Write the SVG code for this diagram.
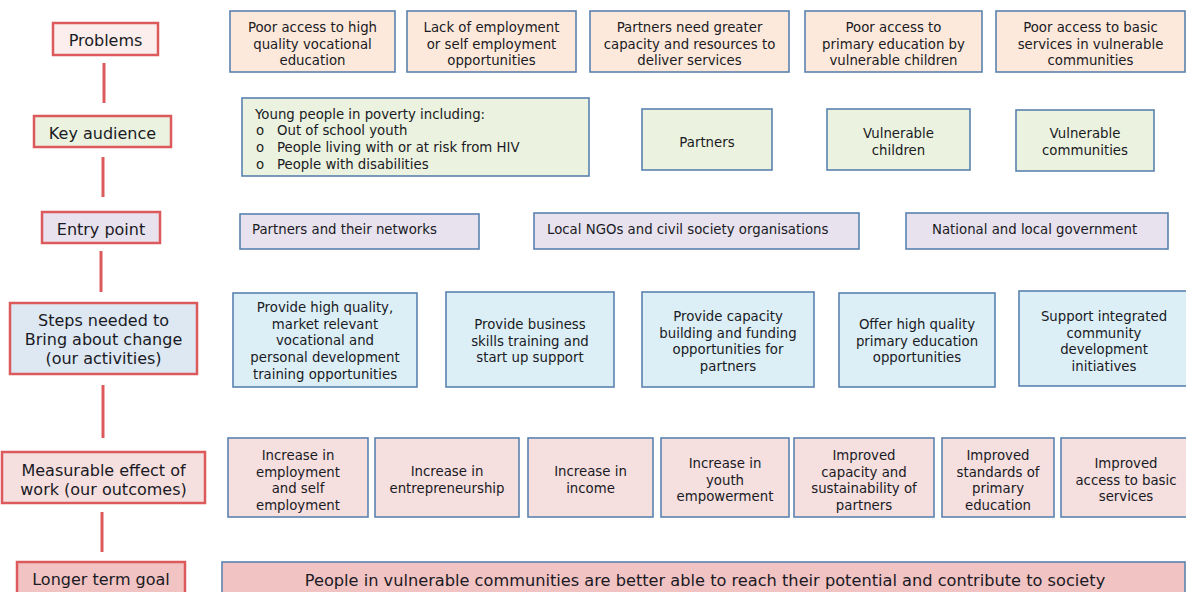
<svg xmlns="http://www.w3.org/2000/svg" width="1186" height="592" viewBox="0 0 1186 592">
  <style>
    text { font-family: "DejaVu Sans", "Liberation Sans", sans-serif; fill: #1a1a24; }
    .lbl rect { stroke: #dc5a5c; stroke-width: 2.5; }
    .lbl text { font-size: 16px; text-anchor: middle; }
    .box rect { stroke: #5a82b0; stroke-width: 1.6; }
    .box text { font-size: 13.3px; text-anchor: middle; }
    .prob rect { fill: #fde9db; }
    .aud rect { fill: #ebf2df; }
    .ent rect { fill: #e7e2ee; }
    .step rect { fill: #dceff6; }
    .out rect { fill: #f5dfdf; }
    .goal rect { fill: #f2c3c3; }
    .goal text { font-size: 16.2px; }
    .left text { text-anchor: start; }
    #connectors line { stroke: #dc5a5c; stroke-width: 3; }
  </style>
  <rect width="1186" height="592" fill="#ffffff"/>

  <!-- vertical links between the row labels -->
  <g id="connectors">
    <line x1="104" y1="63" x2="104" y2="103"/>
    <line x1="103" y1="157" x2="103" y2="197"/>
    <line x1="101" y1="251" x2="101" y2="292"/>
    <line x1="103" y1="385" x2="103" y2="438"/>
    <line x1="102" y1="512" x2="102" y2="552"/>
  </g>

  <!-- row labels -->
  <g id="lbl-problems" class="lbl"><rect x="53" y="23" width="105" height="32" fill="#fbeeec"/><text x="105.5" y="45.5">Problems</text></g>
  <g id="lbl-audience" class="lbl"><rect x="34" y="116" width="137" height="31" fill="#ebf2df"/><text x="102.5" y="138.5">Key audience</text></g>
  <g id="lbl-entry" class="lbl"><rect x="42" y="212" width="118" height="31" fill="#e7e2ee"/><text x="101" y="234.5">Entry point</text></g>
  <g id="lbl-steps" class="lbl"><rect x="10" y="303" width="187" height="71" fill="#dde8f3"/><text x="103.5" y="326"><tspan x="103.5">Steps needed to</tspan><tspan x="103.5" dy="19">Bring about change</tspan><tspan x="103.5" dy="19">(our activities)</tspan></text></g>
  <g id="lbl-outcomes" class="lbl"><rect x="2" y="452" width="203" height="51" fill="#f5dfdf"/><text x="103.5" y="475.5"><tspan x="103.5">Measurable effect of</tspan><tspan x="103.5" dy="19">work (our outcomes)</tspan></text></g>
  <g id="lbl-goal" class="lbl"><rect x="17" y="562" width="168" height="40" fill="#f2c3c3"/><text x="101" y="585">Longer term goal</text></g>

  <!-- problems -->
  <g id="p1" class="box prob"><rect x="230" y="11" width="165" height="61"/><text y="32"><tspan x="312.5">Poor access to high</tspan><tspan x="312.5" dy="16.5">quality vocational</tspan><tspan x="312.5" dy="16.5">education</tspan></text></g>
  <g id="p2" class="box prob"><rect x="407" y="11" width="169" height="61"/><text y="32"><tspan x="491.5">Lack of employment</tspan><tspan x="491.5" dy="16.5">or self employment</tspan><tspan x="491.5" dy="16.5">opportunities</tspan></text></g>
  <g id="p3" class="box prob"><rect x="590" y="11" width="199" height="61"/><text y="32"><tspan x="689.5">Partners need greater</tspan><tspan x="689.5" dy="16.5">capacity and resources to</tspan><tspan x="689.5" dy="16.5">deliver services</tspan></text></g>
  <g id="p4" class="box prob"><rect x="805" y="11" width="177" height="61"/><text y="32"><tspan x="893.5">Poor access to</tspan><tspan x="893.5" dy="16.5">primary education by</tspan><tspan x="893.5" dy="16.5">vulnerable children</tspan></text></g>
  <g id="p5" class="box prob"><rect x="996" y="11" width="189" height="61"/><text y="32"><tspan x="1090.5">Poor access to basic</tspan><tspan x="1090.5" dy="16.5">services in vulnerable</tspan><tspan x="1090.5" dy="16.5">communities</tspan></text></g>

  <!-- key audience -->
  <g id="a1" class="box aud left"><rect x="242" y="98" width="347" height="78"/>
    <text x="255" y="119">Young people in poverty including:</text>
    <text x="256" y="135">o</text><text x="277" y="135">Out of school youth</text>
    <text x="256" y="152">o</text><text x="277" y="152">People living with or at risk from HIV</text>
    <text x="256" y="169">o</text><text x="277" y="169">People with disabilities</text>
  </g>
  <g id="a2" class="box aud"><rect x="642" y="109" width="130" height="61"/><text x="707" y="146.5">Partners</text></g>
  <g id="a3" class="box aud"><rect x="827" y="109" width="143" height="61"/><text y="138"><tspan x="898.5">Vulnerable</tspan><tspan x="898.5" dy="16.5">children</tspan></text></g>
  <g id="a4" class="box aud"><rect x="1016" y="110" width="138" height="61"/><text y="138"><tspan x="1085">Vulnerable</tspan><tspan x="1085" dy="16.5">communities</tspan></text></g>

  <!-- entry points -->
  <g id="e1" class="box ent left"><rect x="240" y="214" width="239" height="35"/><text x="252" y="234">Partners and their networks</text></g>
  <g id="e2" class="box ent left"><rect x="534" y="213" width="325" height="36"/><text x="547" y="234">Local NGOs and civil society organisations</text></g>
  <g id="e3" class="box ent left"><rect x="906" y="213" width="262" height="36"/><text x="932" y="234">National and local government</text></g>

  <!-- activities -->
  <g id="s1" class="box step"><rect x="233" y="293" width="184" height="94"/><text y="312"><tspan x="325">Provide high quality,</tspan><tspan x="325" dy="16.7">market relevant</tspan><tspan x="325" dy="16.7">vocational and</tspan><tspan x="325" dy="16.7">personal development</tspan><tspan x="325" dy="16.7">training opportunities</tspan></text></g>
  <g id="s2" class="box step"><rect x="446" y="292" width="168" height="95"/><text y="329"><tspan x="530">Provide business</tspan><tspan x="530" dy="16.7">skills training and</tspan><tspan x="530" dy="16.7">start up support</tspan></text></g>
  <g id="s3" class="box step"><rect x="642" y="292" width="172" height="95"/><text y="321"><tspan x="728">Provide capacity</tspan><tspan x="728" dy="16.7">building and funding</tspan><tspan x="728" dy="16.7">opportunities for</tspan><tspan x="728" dy="16.7">partners</tspan></text></g>
  <g id="s4" class="box step"><rect x="839" y="293" width="156" height="94"/><text y="329"><tspan x="917">Offer high quality</tspan><tspan x="917" dy="16.7">primary education</tspan><tspan x="917" dy="16.7">opportunities</tspan></text></g>
  <g id="s5" class="box step"><rect x="1019" y="291" width="170" height="95"/><text y="321"><tspan x="1104">Support integrated</tspan><tspan x="1104" dy="16.7">community</tspan><tspan x="1104" dy="16.7">development</tspan><tspan x="1104" dy="16.7">initiatives</tspan></text></g>

  <!-- outcomes -->
  <g id="o1" class="box out"><rect x="228" y="438" width="140" height="79"/><text y="460"><tspan x="298">Increase in</tspan><tspan x="298" dy="16.5">employment</tspan><tspan x="298" dy="16.5">and self</tspan><tspan x="298" dy="16.5">employment</tspan></text></g>
  <g id="o2" class="box out"><rect x="375" y="438" width="144" height="79"/><text y="476"><tspan x="447">Increase in</tspan><tspan x="447" dy="16.5">entrepreneurship</tspan></text></g>
  <g id="o3" class="box out"><rect x="528" y="438" width="125" height="79"/><text y="476"><tspan x="590.5">Increase in</tspan><tspan x="590.5" dy="16.5">income</tspan></text></g>
  <g id="o4" class="box out"><rect x="661" y="438" width="128" height="79"/><text y="468"><tspan x="725">Increase in</tspan><tspan x="725" dy="16.5">youth</tspan><tspan x="725" dy="16.5">empowerment</tspan></text></g>
  <g id="o5" class="box out"><rect x="794" y="438" width="140" height="79"/><text y="460"><tspan x="864">Improved</tspan><tspan x="864" dy="16.5">capacity and</tspan><tspan x="864" dy="16.5">sustainability of</tspan><tspan x="864" dy="16.5">partners</tspan></text></g>
  <g id="o6" class="box out"><rect x="942" y="438" width="112" height="79"/><text y="460"><tspan x="998">Improved</tspan><tspan x="998" dy="16.5">standards of</tspan><tspan x="998" dy="16.5">primary</tspan><tspan x="998" dy="16.5">education</tspan></text></g>
  <g id="o7" class="box out"><rect x="1061" y="438" width="128" height="79"/><text y="468"><tspan x="1126">Improved</tspan><tspan x="1126" dy="16.5">access to basic</tspan><tspan x="1126" dy="16.5">services</tspan></text></g>

  <!-- long-term goal -->
  <g id="goal" class="box goal"><rect x="222" y="562" width="963" height="40"/><text x="705" y="586">People in vulnerable communities are better able to reach their potential and contribute to society</text></g>
</svg>
